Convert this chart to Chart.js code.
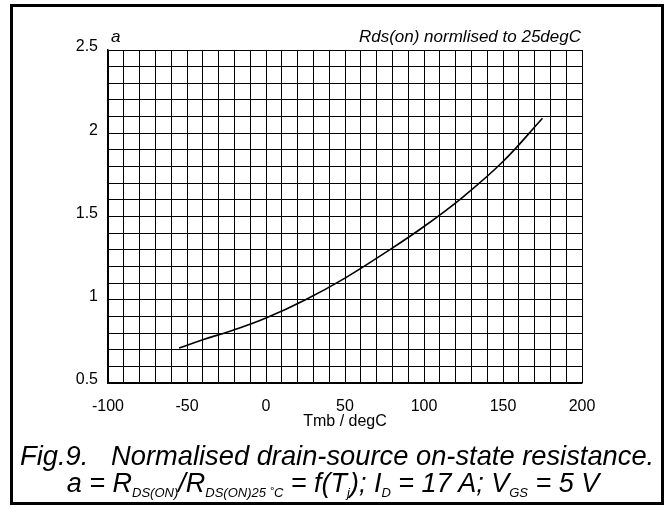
<!DOCTYPE html>
<html>
<head>
<meta charset="utf-8">
<script src="https://cdn.jsdelivr.net/npm/chart.js@4"></script>
<style>
body{margin:0;background:#fff;font-family:"Liberation Sans",Arial,sans-serif}
#wrap{position:relative;width:667px;height:508px;overflow:hidden}
#frame{position:absolute;left:10px;top:4px;width:654px;height:501px;box-sizing:border-box;border:3px solid #000}
canvas{position:absolute;left:0;top:0}
.t{position:absolute;white-space:nowrap;color:#000}
.it{font-style:italic}
sub{font-size:13px;vertical-align:-5px;line-height:0}
</style>
</head>
<body>
<div id="wrap">
<canvas id="c" width="667" height="508"></canvas>
<div id="frame"></div>
<div class="t it" style="left:111px;top:27px;font-size:17px">a</div>
<div class="t it" style="right:86px;top:27px;font-size:17px">Rds(on) normlised to 25degC</div>
<div class="t" style="left:345px;top:412px;font-size:16px;transform:translateX(-50%)">Tmb / degC</div>
<div class="t it" style="left:20px;top:440px;font-size:27.3px">Fig.9.&nbsp;&nbsp; Normalised drain-source on-state resistance.</div>
<div class="t it" style="left:333px;top:468px;font-size:27px;transform:translateX(-50%)">a = R<sub>DS(ON)</sub>/R<sub>DS(ON)25 ˚C</sub> = f(T<sub>j</sub>); I<sub>D</sub> = 17 A; V<sub>GS</sub> = 5 V</div>
</div>
<script>
let temps = [-55, -40, -20, 0, 25, 50, 75, 100, 125, 150, 175]
let ratio = [0.71, 0.76, 0.82, 0.89, 1.0, 1.13, 1.28, 1.44, 1.62, 1.83, 2.09]
let xLabels = [-100, -50, 0, 50, 100, 150, 200]
let yLabels = [0.5, 1, 1.5, 2, 2.5]

function near(v, list){
return list.find(l => Math.abs(l - v) < 1e-6)
}

new Chart(document.getElementById("c"),{
type:"line",
data:{
datasets:[{
data:temps.map((t,i)=>({x:t,y:ratio[i]})),
borderColor:"#000",
borderWidth:1.6,
pointRadius:0,
tension:0.4,
fill:false
}]
},
options:{
responsive:false,
animation:false,
layout:{padding:{left:0,right:85,top:50,bottom:75}},
plugins:{legend:{display:false},tooltip:{enabled:false}},
scales:{
x:{
type:"linear",
min:-100,max:200,
grid:{color:"#000",lineWidth:1,drawTicks:false},
border:{color:"#000",width:1.5},
afterFit:s=>{s.height=50},
ticks:{
stepSize:10,autoSkip:false,maxRotation:0,padding:14,color:"#000",
font:{family:"Liberation Sans",size:16},
callback:v=>{let l=near(v,xLabels);return l===undefined?"":String(l)}
}
},
y:{
min:0.5,max:2.5,
grid:{color:"#000",lineWidth:1,drawTicks:false},
border:{color:"#000",width:1.5},
afterFit:s=>{s.width=108},
ticks:{
stepSize:0.1,autoSkip:false,padding:10,color:"#000",labelOffset:-3,
font:{family:"Liberation Sans",size:16},
callback:v=>{let l=near(v,yLabels);return l===undefined?"":String(l)}
}
}
}
}
})
</script>
</body>
</html>
